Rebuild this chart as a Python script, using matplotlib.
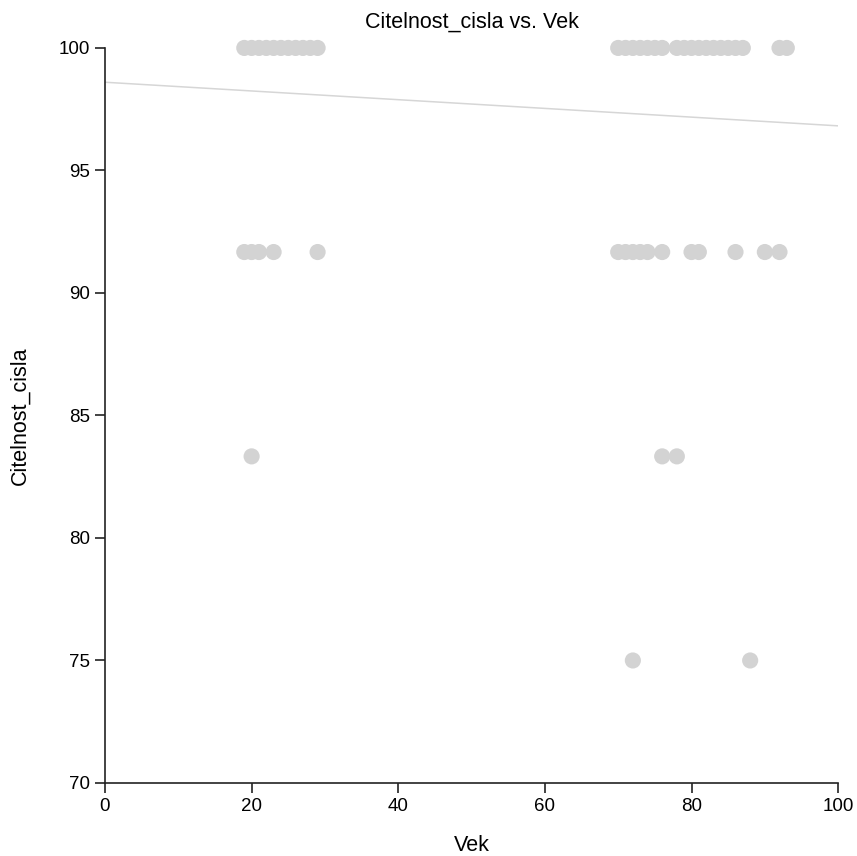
import matplotlib
matplotlib.use("Agg")
import matplotlib.pyplot as plt
import numpy as np

plt.rcParams['font.family'] = ['Liberation Sans', 'DejaVu Sans']

# values
vek_100 = list(range(19, 30)) + [70, 71, 72, 73, 74, 75, 76] + list(range(78, 88)) + [92, 93]
vek_9167 = [19, 20, 21, 23, 29, 70, 71, 72, 73, 74, 76, 80, 81, 86, 90, 92]
vek_8333 = [20, 76, 78]
vek_75 = [72, 88]

vek = vek_100 + vek_9167 + vek_8333 + vek_75
citelnost = ([100.0] * len(vek_100) + [91.67] * len(vek_9167)
             + [83.33] * len(vek_8333) + [75.0] * len(vek_75))

fit_intercept = 98.6
fit_slope = -0.0178

fig = plt.figure(figsize=(8.57, 8.56), dpi=100)
ax = fig.add_axes([0.1225, 0.0853, 0.8555, 0.8587])

ax.scatter(vek, citelnost, s=135, color='#d3d3d3', edgecolors='none', clip_on=False, zorder=3)

xs = np.array([0, 100])
ax.plot(xs, fit_intercept + fit_slope * xs, color='#d6d6d6', lw=1.1, zorder=2)

ax.set_xlim(0, 100)
ax.set_ylim(70, 100)
ax.set_xticks(range(0, 101, 20))
ax.set_yticks(range(70, 101, 5))
ax.spines['top'].set_visible(False)
ax.spines['right'].set_visible(False)
for s in ('left', 'bottom'):
    ax.spines[s].set_color('#222222')
    ax.spines[s].set_linewidth(1.2)
ax.tick_params(direction='out', length=7, width=1.2, labelsize=13.5, colors='#222222', labelcolor='black')

fig.text(0.5 * (0.1225 + 0.978), 1 - 22 / 856, 'Citelnost_cisla vs. Vek', fontsize=15.5, ha='center', va='center')

ax.set_xlabel('Vek', fontsize=15.5)
ax.xaxis.set_label_coords(0.5, -0.0844)
ax.xaxis.label.set_va('center')
ax.set_ylabel('Citelnost_cisla', fontsize=15.5)
ax.yaxis.set_label_coords(-0.116, 0.5)
ax.yaxis.label.set_va('center')

fig.savefig('out.png', dpi=100)
